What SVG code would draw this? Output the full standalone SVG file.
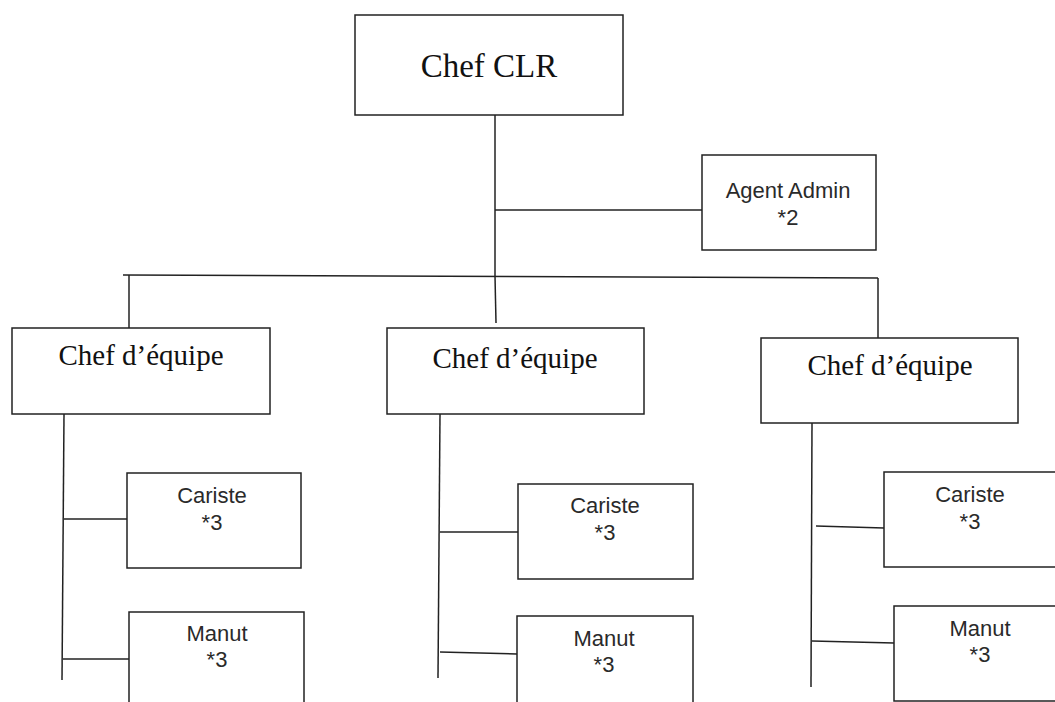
<svg xmlns="http://www.w3.org/2000/svg" width="1055" height="702" viewBox="0 0 1055 702">
  <style>
    .box { fill: #ffffff; stroke: #222222; stroke-width: 1.5; }
    .line { fill: none; stroke: #222222; stroke-width: 1.5; }
    .serif { font-family: "Liberation Serif", "Times New Roman", serif; fill: #111111; text-anchor: middle; }
    .sans { font-family: "Liberation Sans", Arial, sans-serif; fill: #2a2a2a; text-anchor: middle; font-size: 22px; }
  </style>
  <rect width="1055" height="702" fill="#ffffff"/>

  <!-- connectors -->
  <g id="connectors">
    <line class="line" x1="495" y1="115" x2="495" y2="276"/>
    <line class="line" x1="495" y1="210" x2="702" y2="210"/>
    <line class="line" x1="495" y1="276" x2="496" y2="323"/>
    <line class="line" x1="123" y1="275" x2="878" y2="278"/>
    <line class="line" x1="129" y1="275" x2="129" y2="328"/>
    <line class="line" x1="878" y1="278" x2="878" y2="338"/>
    <!-- left team -->
    <line class="line" x1="64" y1="414" x2="62" y2="680"/>
    <line class="line" x1="64" y1="519" x2="127" y2="519"/>
    <line class="line" x1="63" y1="659" x2="129" y2="659"/>
    <!-- middle team -->
    <line class="line" x1="440" y1="414" x2="438" y2="678"/>
    <line class="line" x1="440" y1="532" x2="518" y2="532"/>
    <line class="line" x1="440" y1="652" x2="517" y2="654"/>
    <!-- right team -->
    <line class="line" x1="812" y1="423" x2="811" y2="687"/>
    <line class="line" x1="816" y1="526" x2="884" y2="528"/>
    <line class="line" x1="812" y1="641" x2="894" y2="643"/>
  </g>

  <g id="chef-clr">
    <rect class="box" x="355" y="15" width="268" height="100"/>
    <text class="serif" x="489" y="77" font-size="33">Chef CLR</text>
  </g>

  <g id="agent-admin">
    <rect class="box" x="702" y="155" width="174" height="95"/>
    <text class="sans" x="788" y="198">Agent Admin</text>
    <text class="sans" x="788" y="225">*2</text>
  </g>

  <g id="chef-equipe-1">
    <rect class="box" x="12" y="328" width="258" height="86"/>
    <text class="serif" x="141" y="365" font-size="29">Chef d’équipe</text>
  </g>

  <g id="chef-equipe-2">
    <rect class="box" x="387" y="328" width="257" height="86"/>
    <text class="serif" x="515" y="368" font-size="29">Chef d’équipe</text>
  </g>

  <g id="chef-equipe-3">
    <rect class="box" x="761" y="338" width="257" height="85"/>
    <text class="serif" x="890" y="375" font-size="29">Chef d’équipe</text>
  </g>

  <g id="cariste-1">
    <rect class="box" x="127" y="473" width="174" height="95"/>
    <text class="sans" x="212" y="503">Cariste</text>
    <text class="sans" x="212" y="530">*3</text>
  </g>

  <g id="manut-1">
    <rect class="box" x="129" y="612" width="175" height="100"/>
    <text class="sans" x="217" y="641">Manut</text>
    <text class="sans" x="217" y="667">*3</text>
  </g>

  <g id="cariste-2">
    <rect class="box" x="518" y="484" width="175" height="95"/>
    <text class="sans" x="605" y="513">Cariste</text>
    <text class="sans" x="605" y="540">*3</text>
  </g>

  <g id="manut-2">
    <rect class="box" x="517" y="616" width="176" height="100"/>
    <text class="sans" x="604" y="646">Manut</text>
    <text class="sans" x="604" y="672">*3</text>
  </g>

  <g id="cariste-3">
    <rect class="box" x="884" y="472" width="174" height="95"/>
    <text class="sans" x="970" y="502">Cariste</text>
    <text class="sans" x="970" y="529">*3</text>
  </g>

  <g id="manut-3">
    <rect class="box" x="894" y="606" width="174" height="95"/>
    <text class="sans" x="980" y="636">Manut</text>
    <text class="sans" x="980" y="662">*3</text>
  </g>
</svg>
